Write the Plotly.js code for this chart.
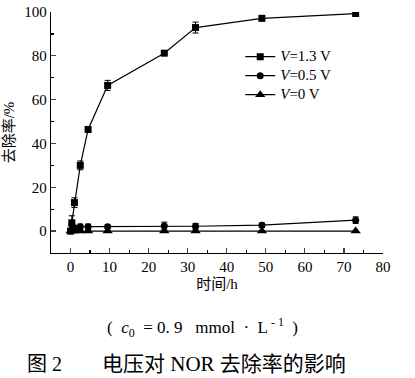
<!DOCTYPE html>
<html>
<head>
<meta charset="utf-8">
<script src="https://cdn.plot.ly/plotly-3.0.1.min.js"></script>
<style>html,body{margin:0;padding:0;background:#fff;}#chart{width:415px;height:378px;}</style>
</head>
<body>
<div id="chart"></div>
<script>
const timeH = [0, 0.33, 1, 2.5, 4.5, 9.5, 24, 32, 49, 73];
const v13 = [0, 3.8, 13, 30, 46.4, 66.5, 81.2, 92.9, 97.1, 99.3];
const v13Err = [0, 3.2, 2.2, 2, 0.8, 2.3, 0.8, 2.5, 0.8, 0.7];
const v05 = [0, 3, 1.5, 2, 2, 2, 2.3, 2.2, 2.7, 5];
const v05Err = [0, 1, 1, 1.2, 1.2, 0.8, 1.8, 1.3, 1, 1.5];
const v0 = [0, 0, 0, 0, 0, 0, 0, 0, 0, 0];
const seriesNames = ['<i>V</i>=1.3 V', '<i>V</i>=0.5 V', '<i>V</i>=0 V'];
const xTicks = [0, 10, 20, 30, 40, 50, 60, 70, 80];
const yTicks = [0, 20, 40, 60, 80, 100];

const font = 'Liberation Serif, "Noto Sans CJK SC", serif';
const errStyle = (arr) => ({type: 'data', array: arr, visible: true, color: '#000', thickness: 1, width: 3});
const big = (s) => '<span style="font-size:15px">' + s + '</span>';

const traces = [
  {x: timeH, y: v13, name: big(seriesNames[0]), mode: 'lines+markers', error_y: errStyle(v13Err),
   line: {color: '#000', width: 1.2}, marker: {symbol: 'square', size: 7, color: '#000'}},
  {x: timeH, y: v05, name: big(seriesNames[1]), mode: 'lines+markers', error_y: errStyle(v05Err),
   line: {color: '#000', width: 1.2}, marker: {symbol: 'circle', size: 7, color: '#000'}},
  {x: timeH, y: v0, name: big(seriesNames[2]), mode: 'lines+markers',
   line: {color: '#000', width: 1.2}, marker: {symbol: 'triangle-up', size: 9, color: '#000'}}
];

const layout = {
  width: 415, height: 378,
  margin: {l: 51, r: 32, t: 12, b: 125},
  paper_bgcolor: '#fff', plot_bgcolor: '#fff',
  font: {family: font, color: '#000', size: 15},
  showlegend: true,
  legend: {x: 0.57, y: 0.875, xanchor: 'left', yanchor: 'top', bgcolor: 'rgba(0,0,0,0)',
           font: {family: font, size: 11, color: '#000'}, tracegroupgap: 0, itemwidth: 30},
  xaxis: {range: [-5, 80], tickvals: xTicks, ticks: 'inside', ticklen: 5, tickwidth: 1.2,
          showline: true, linecolor: '#000', linewidth: 1.2, showgrid: false, zeroline: false,
          minor: {dtick: 5, ticks: 'inside', ticklen: 3, tickcolor: '#000', showgrid: false},
          tickfont: {family: font, size: 15},
          title: {text: '时间/h', font: {family: font, size: 15}, standoff: 4}},
  yaxis: {range: [-10, 100], tickvals: yTicks, ticks: 'inside', ticklen: 5, tickwidth: 1.2,
          showline: true, linecolor: '#000', linewidth: 1.2, showgrid: false, zeroline: false,
          minor: {dtick: 10, ticks: 'inside', ticklen: 3, tickcolor: '#000', showgrid: false},
          tickfont: {family: font, size: 15},
          title: {text: '去除率/%', font: {family: font, size: 15}, standoff: 6}},
  annotations: [
    {xref: 'paper', yref: 'paper', x: 0.455, y: -0.31, xanchor: 'center', yanchor: 'middle', showarrow: false,
     text: '(  <i>c</i><sub>0</sub>  = 0. 9   mmol  ·  L<sup> - 1</sup>  )', font: {family: font, size: 17}},
    {xref: 'paper', yref: 'paper', x: -0.078, y: -0.46, xanchor: 'left', yanchor: 'middle', showarrow: false,
     text: '图 2', font: {family: font, size: 20}},
    {xref: 'paper', yref: 'paper', x: 0.148, y: -0.46, xanchor: 'left', yanchor: 'middle', showarrow: false,
     text: '电压对 NOR 去除率的影响', font: {family: font, size: 21}}
  ]
};

Plotly.newPlot('chart', traces, layout, {displayModeBar: false, staticPlot: true});
</script>
</body>
</html>
